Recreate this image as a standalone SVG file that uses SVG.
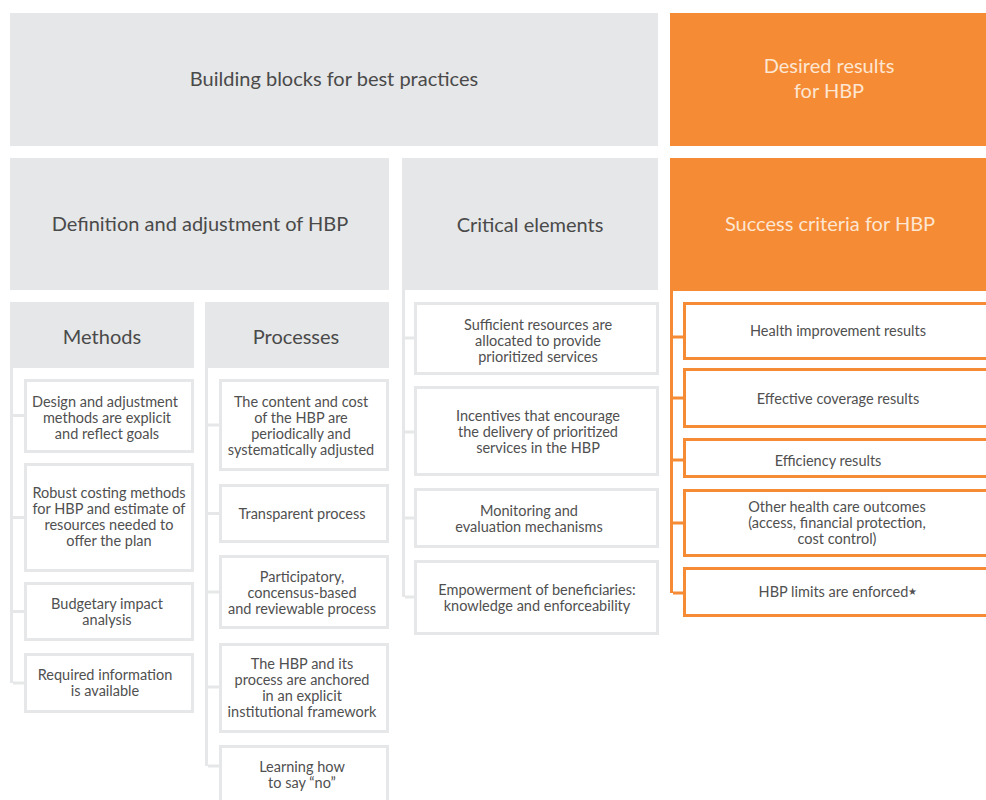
<svg xmlns="http://www.w3.org/2000/svg" width="986" height="800" viewBox="0 0 986 800">
<style>
.g{fill:#e6e7e8}
.o{fill:#f58b34}
.bx{fill:#fff;stroke:#e6e7e8;stroke-width:3}
.bo{fill:#fff;stroke:#f58b34;stroke-width:3}
.cg{fill:none;stroke:#e6e7e8;stroke-width:3}
.co{fill:none;stroke:#f58b34;stroke-width:3}
text{font-family:Lato,"Open Sans",sans-serif;text-anchor:middle;fill:#505050}
.h{font-size:20px;fill:#4a4a4a}
.hw{font-size:20px;fill:#fde6d2}
.t{font-size:14.5px}
</style>
<rect width="986" height="800" fill="#fff"/>
<g id="connectors">
<path class="cg" d="M11.5 368V683M13 415.5H25M13 517.5H25M13 611.5H25M13 683H25"/>
<path class="cg" d="M206.5 368V766M208 425H220M208 513.5H220M208 592H220M208 687H220M208 766H220"/>
<path class="cg" d="M403.5 290V597M405 338H416M405 432H416M405 518H416M405 597H416"/>
<path class="co" d="M671.5 290V593M673 337H684M673 398H684M673 460H684M673 523H684M673 593H684"/>
</g>
<g id="n-building"><rect class="g" x="10" y="13" width="648" height="133"/><text class="h" x="334" y="86">Building blocks for best practices</text></g>
<g id="n-desired"><rect class="o" x="670" y="13" width="316" height="133"/><text class="hw" x="829" y="73">Desired results</text><text class="hw" x="829" y="98">for HBP</text></g>
<g id="n-definition"><rect class="g" x="10" y="158" width="379" height="132"/><text class="h" x="200" y="231">Definition and adjustment of HBP</text></g>
<g id="n-critical"><rect class="g" x="402" y="158" width="256" height="132"/><text class="h" x="530" y="232">Critical elements</text></g>
<g id="n-success"><rect class="o" x="670" y="158" width="316" height="133"/><text class="hw" x="830" y="231">Success criteria for HBP</text></g>
<g id="n-methods"><rect class="g" x="10" y="302" width="184" height="66"/><text class="h" x="102" y="344">Methods</text></g>
<g id="n-processes"><rect class="g" x="205" y="302" width="184" height="66"/><text class="h" x="296" y="344">Processes</text></g>

<g id="m1"><rect class="bx" x="25.5" y="380.5" width="167" height="71"/><text class="t"><tspan x="105" y="407">Design and adjustment</tspan><tspan x="107" y="423">methods are explicit</tspan><tspan x="107" y="439">and reflect goals</tspan></text></g>
<g id="m2"><rect class="bx" x="25.5" y="464.5" width="167" height="106"/><text class="t"><tspan x="109" y="498">Robust costing methods</tspan><tspan x="109" y="514">for HBP and estimate of</tspan><tspan x="109" y="530">resources needed to</tspan><tspan x="109" y="546">offer the plan</tspan></text></g>
<g id="m3"><rect class="bx" x="25.5" y="583.5" width="167" height="56"/><text class="t"><tspan x="107" y="609">Budgetary impact</tspan><tspan x="107" y="625">analysis</tspan></text></g>
<g id="m4"><rect class="bx" x="25.5" y="654.5" width="167" height="57"/><text class="t"><tspan x="105" y="680">Required information</tspan><tspan x="105" y="696">is available</tspan></text></g>

<g id="p1"><rect class="bx" x="220.5" y="380.5" width="167" height="89"/><text class="t"><tspan x="301" y="407">The content and cost</tspan><tspan x="301" y="423">of the HBP are</tspan><tspan x="301" y="439">periodically and</tspan><tspan x="301" y="455">systematically adjusted</tspan></text></g>
<g id="p2"><rect class="bx" x="220.5" y="485.5" width="167" height="56"/><text class="t"><tspan x="302" y="519">Transparent process</tspan></text></g>
<g id="p3"><rect class="bx" x="220.5" y="556.5" width="167" height="71"/><text class="t"><tspan x="302" y="582">Participatory,</tspan><tspan x="302" y="598">concensus-based</tspan><tspan x="302" y="614">and reviewable process</tspan></text></g>
<g id="p4"><rect class="bx" x="220.5" y="644.5" width="167" height="87"/><text class="t"><tspan x="302" y="669">The HBP and its</tspan><tspan x="302" y="685">process are anchored</tspan><tspan x="302" y="701">in an explicit</tspan><tspan x="302" y="717">institutional framework</tspan></text></g>
<g id="p5"><rect class="bx" x="220.5" y="746.5" width="167" height="60"/><text class="t"><tspan x="302" y="772">Learning how</tspan><tspan x="302" y="788">to say “no”</tspan></text></g>

<g id="c1"><rect class="bx" x="415.5" y="303.5" width="242" height="70"/><text class="t"><tspan x="538" y="330">Sufficient resources are</tspan><tspan x="538" y="346">allocated to provide</tspan><tspan x="538" y="362">prioritized services</tspan></text></g>
<g id="c2"><rect class="bx" x="415.5" y="387.5" width="242" height="87"/><text class="t"><tspan x="538" y="421">Incentives that encourage</tspan><tspan x="538" y="437">the delivery of prioritized</tspan><tspan x="538" y="453">services in the HBP</tspan></text></g>
<g id="c3"><rect class="bx" x="415.5" y="489.5" width="242" height="57"/><text class="t"><tspan x="529" y="516">Monitoring and</tspan><tspan x="529" y="532">evaluation mechanisms</tspan></text></g>
<g id="c4"><rect class="bx" x="415.5" y="561.5" width="242" height="72"/><text class="t"><tspan x="537" y="595">Empowerment of beneficiaries:</tspan><tspan x="537" y="611">knowledge and enforceability</tspan></text></g>

<g id="s1"><rect class="bo" x="684.5" y="303.5" width="310" height="55"/><text class="t" x="838" y="336">Health improvement results</text></g>
<g id="s2"><rect class="bo" x="684.5" y="369.5" width="310" height="57"/><text class="t" x="838" y="404">Effective coverage results</text></g>
<g id="s3"><rect class="bo" x="684.5" y="439.5" width="310" height="37"/><text class="t" x="828" y="466">Efficiency results</text></g>
<g id="s4"><rect class="bo" x="684.5" y="490.5" width="310" height="65"/><text class="t"><tspan x="837" y="512">Other health care outcomes</tspan><tspan x="837" y="528">(access, financial protection,</tspan><tspan x="837" y="544">cost control)</tspan></text></g>
<g id="s5"><rect class="bo" x="684.5" y="568.5" width="310" height="47"/><text class="t" x="838" y="597">HBP limits are enforced<tspan font-size="10" dy="-2">★</tspan></text></g>
</svg>
